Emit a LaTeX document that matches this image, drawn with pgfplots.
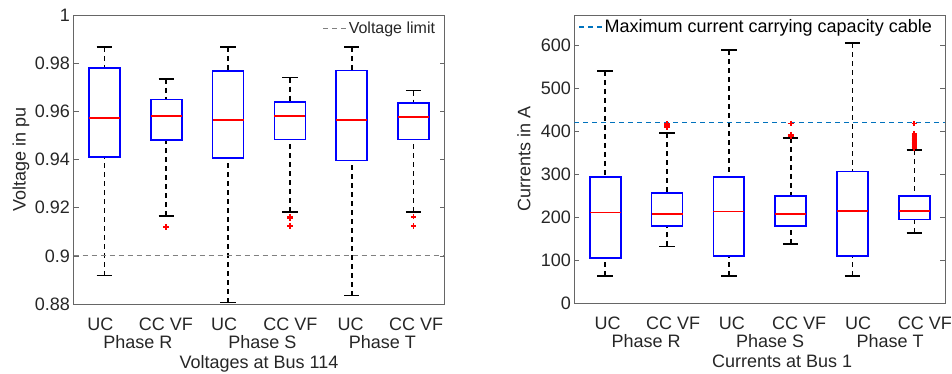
\documentclass[border=0pt]{standalone}
\usepackage{fontspec}
\setmainfont{Liberation Sans}
\usepackage{pgfplots}
\pgfplotsset{compat=1.18}
\usepgfplotslibrary{statistics}
\definecolor{mblue}{rgb}{0,0.447,0.741}
\definecolor{axgray}{rgb}{0.15,0.15,0.15}
\definecolor{framegray}{rgb}{0.4,0.4,0.4}

\pgfplotsset{
  mybox/.style={
    boxplot/draw direction=y,
    boxplot/box extend=0.5,
    boxplot/whisker extend=0.25,
    mark=+, mark size=2.8bp,
    mark options={red, solid, line width=1.8bp},
    boxplot/draw/box/.code={%
      \draw[blue, line width=1.7bp, solid]
        (boxplot box cs:\pgfplotsboxplotvalue{lower quartile},0) rectangle
        (boxplot box cs:\pgfplotsboxplotvalue{upper quartile},1);},
    boxplot/draw/median/.code={%
      \draw[red, line width=1.6bp, solid]
        (boxplot box cs:\pgfplotsboxplotvalue{median},0) --
        (boxplot box cs:\pgfplotsboxplotvalue{median},1);},
    boxplot/draw/lower whisker/.code={%
      \draw[black, line width=1.6bp, dash pattern=on 5bp off 4bp]
        (boxplot box cs:\pgfplotsboxplotvalue{lower whisker},0.5) --
        (boxplot box cs:\pgfplotsboxplotvalue{lower quartile},0.5);
      \draw[black, line width=1.6bp, solid]
        (boxplot whisker cs:\pgfplotsboxplotvalue{lower whisker},0) --
        (boxplot whisker cs:\pgfplotsboxplotvalue{lower whisker},1);},
    boxplot/draw/upper whisker/.code={%
      \draw[black, line width=1.6bp, dash pattern=on 5bp off 4bp]
        (boxplot box cs:\pgfplotsboxplotvalue{upper whisker},0.5) --
        (boxplot box cs:\pgfplotsboxplotvalue{upper quartile},0.5);
      \draw[black, line width=1.6bp, solid]
        (boxplot whisker cs:\pgfplotsboxplotvalue{upper whisker},0) --
        (boxplot whisker cs:\pgfplotsboxplotvalue{upper whisker},1);},
  },
  common/.style={
    scale only axis,
    width=371bp, height=288.7bp,
    xmin=0.5, xmax=6.5,
    axis line style={framegray, line width=0.9bp},
    tick style={framegray, line width=0.7bp},
    tick align=inside,
    major tick length=5bp,
    x tick style={draw=none},
    /pgf/number format/assume math mode=true,
    tick label style={font=\fontsize{18bp}{21bp}\selectfont, text=axgray},
    label style={font=\fontsize{18bp}{21bp}\selectfont, text=axgray},
    xticklabel style={anchor=base, yshift=-26bp},
    extra x tick style={xticklabel style={yshift=-18bp}},
    extra x tick labels={Phase R,Phase S,Phase T},
    xticklabels={UC,CC VF,UC,CC VF,UC,CC VF},
    legend style={draw=none, fill=none, inner sep=0pt, outer sep=0pt,
      nodes={inner sep=1bp}},
    legend cell align=left,
    legend image code/.code={\draw[#1] (0bp,0bp) -- (24bp,0bp);},
  },
}

\begin{document}
\begin{tikzpicture}
\useasboundingbox (0,0) rectangle (952bp,374bp);

% ---------------- Left: voltages ----------------
\begin{axis}[common,
  at={(73.5bp,70bp)}, anchor=south west,
  ymin=0.88, ymax=1,
  ytick={0.88,0.9,0.92,0.94,0.96,0.98,1},
  yticklabel style={/pgf/number format/fixed, /pgf/number format/precision=2},
  xtick={0.935,1.994,2.935,4.009,4.98,6.04},
  extra x ticks={1.54,3.556,5.495},
  xlabel={Voltages at Bus 114},
  xlabel style={at={(axis description cs:0.5,-0.2218)}, anchor=base},
  ylabel={Voltage in pu},
  ylabel style={at={(axis description cs:-0.1413,0.5)}, anchor=center},
  legend style={at={(axis description cs:0.6716,0.955)}, anchor=west,
    font=\fontsize{16bp}{19bp}\selectfont, text=axgray},
]
\addplot[mybox, forget plot, boxplot prepared={draw position=1,
  lower whisker=0.8918, lower quartile=0.9410, median=0.9572,
  upper quartile=0.9781, upper whisker=0.9869}] coordinates {};
\addplot[mybox, forget plot, boxplot prepared={draw position=2,
  lower whisker=0.9165, lower quartile=0.9481, median=0.9582,
  upper quartile=0.9650, upper whisker=0.9736}]
  table[row sep=\\, y index=0] {v\\ 0.9121\\};
\addplot[mybox, forget plot, boxplot prepared={draw position=3,
  lower whisker=0.8806, lower quartile=0.9406, median=0.9564,
  upper quartile=0.9769, upper whisker=0.9869}] coordinates {};
\addplot[mybox, forget plot, boxplot prepared={draw position=4,
  lower whisker=0.9183, lower quartile=0.9484, median=0.9582,
  upper quartile=0.9640, upper whisker=0.9741}]
  table[row sep=\\, y index=0] {v\\ 0.9163\\ 0.9156\\ 0.9123\\};
\addplot[mybox, forget plot, boxplot prepared={draw position=5,
  lower whisker=0.8835, lower quartile=0.9397, median=0.9564,
  upper quartile=0.9770, upper whisker=0.9869}] coordinates {};
\addplot[mybox, forget plot, boxplot prepared={draw position=6,
  lower whisker=0.9183, lower quartile=0.9484, median=0.9578,
  upper quartile=0.9636, upper whisker=0.9687}]
  table[row sep=\\, y index=0] {v\\ 0.9163\\ 0.9123\\};
\addplot[gray, line width=1.1bp, dash pattern=on 5bp off 4bp]
  coordinates {(0.5,0.9) (6.5,0.9)};
\addlegendentry{Voltage limit}
\end{axis}

% ---------------- Right: currents ----------------
\begin{axis}[common,
  at={(574.3bp,70.3bp)}, anchor=south west,
  ymin=0, ymax=670,
  ytick={0,100,200,300,400,500,600},
  xtick={1.037,2.097,3.047,4.136,5.09,6.17},
  extra x ticks={1.66,3.667,5.606},
  xlabel={Currents at Bus 1},
  xlabel style={at={(axis description cs:0.56,-0.2218)}, anchor=base},
  ylabel={Currents in A},
  ylabel style={at={(axis description cs:-0.1357,0.5)}, anchor=center},
  legend style={at={(axis description cs:0.0108,0.958)}, anchor=west,
    font=\fontsize{18bp}{21bp}\selectfont, text=black},
]
\addplot[mybox, forget plot, boxplot prepared={draw position=1,
  lower whisker=64.3, lower quartile=106.1, median=212.1,
  upper quartile=293.4, upper whisker=540.4}] coordinates {};
\addplot[mybox, forget plot, boxplot prepared={draw position=2,
  lower whisker=133.2, lower quartile=179.6, median=208.3,
  upper quartile=256.3, upper whisker=395.6}]
  table[row sep=\\, y index=0] {v\\ 410\\ 412\\ 414\\ 416\\ 418\\};
\addplot[mybox, forget plot, boxplot prepared={draw position=3,
  lower whisker=64.3, lower quartile=110.7, median=213.7,
  upper quartile=293.4, upper whisker=588.4}] coordinates {};
\addplot[mybox, forget plot, boxplot prepared={draw position=4,
  lower whisker=138.6, lower quartile=180.4, median=208.3,
  upper quartile=249.3, upper whisker=384.8}]
  table[row sep=\\, y index=0] {v\\ 388\\ 390\\ 392\\ 418\\};
\addplot[mybox, forget plot, boxplot prepared={draw position=5,
  lower whisker=64.3, lower quartile=111.5, median=215.2,
  upper quartile=306.6, upper whisker=604.6}] coordinates {};
\addplot[mybox, forget plot, boxplot prepared={draw position=6,
  lower whisker=164.1, lower quartile=195.1, median=214.5,
  upper quartile=249.3, upper whisker=356.1}]
  table[row sep=\\, y index=0] {v\\ 362\\ 365\\ 368\\ 371\\ 374\\ 377\\ 380\\ 383\\ 386\\ 389\\ 392\\ 395\\ 418\\};
\addplot[mblue, line width=1.4bp, dash pattern=on 5bp off 4bp]
  coordinates {(0.5,420) (6.5,420)};
\addlegendentry{Maximum current carrying capacity cable}
\end{axis}
\end{tikzpicture}
\end{document}
